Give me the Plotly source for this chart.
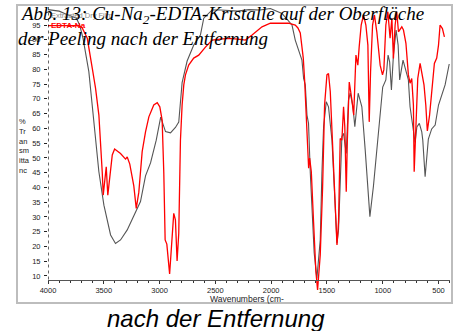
import plotly.graph_objects as go

# ---- data (wavenumber cm-1, % transmittance) ----
gray_wn = [4000, 3900, 3851, 3746, 3716, 3686, 3634, 3603, 3574, 3544, 3499, 3439, 3395, 3350,
           3290, 3216, 3200, 3171, 3126, 3081, 3030, 2990, 2947, 2902, 2858, 2828, 2798, 2753,
           2694, 2634, 2604, 2529, 2450, 2300, 2200, 2100, 2007, 1903, 1813, 1784, 1754, 1724,
           1709, 1694, 1679, 1665, 1649, 1634, 1614, 1590, 1560, 1545, 1530, 1506, 1486, 1455,
           1435, 1410, 1396, 1381, 1366, 1351, 1327, 1307, 1291, 1267, 1250, 1220, 1187, 1157,
           1128, 1115, 1083, 1053, 1030, 1000, 972, 952, 938, 922, 904, 880, 862, 848, 818, 795,
           770, 755, 725, 710, 694, 672, 650, 641, 620, 591, 561, 530, 500, 471, 441, 404]
gray_t = [100.2, 99.7, 98.9, 97.3, 95.0, 90.5, 79.2, 67.9, 56.6, 45.3, 34.0, 23.9, 21.0, 22.2,
          25.6, 31.8, 33.0, 35.2, 43.9, 48.3, 56.0, 63.8, 58.9, 58.5, 60.3, 62.1, 75.5, 82.8,
          88.2, 91.6, 97.3, 100.1, 100.1, 99.7, 100.2, 100.1, 100.6, 98.9, 95.0, 89.9, 86.5, 83.1,
          76.9, 74.7, 64.5, 61.7, 44.8, 31.2, 17.7, 9.2, 22.2, 44.8, 60.6, 69.0, 67.3, 56.0,
          39.1, 21.1, 25.6, 44.8, 57.2, 58.3, 51.5, 69.6, 71.9, 67.3, 60.6, 71.9, 67.3, 52.7,
          37.4, 30.1, 40.5, 52.7, 59.4, 74.0, 76.4, 84.8, 82.5, 73.0, 84.8, 93.3, 88.2, 76.4, 83.1, 79.8,
          76.4, 67.3, 59.4, 55.2, 60.5, 61.7, 58.8, 56.0, 43.6, 56.4, 59.8, 61.1, 67.9, 71.3, 74.7, 81.8]

red_wn = [4000, 3800, 3723, 3693, 3648, 3603, 3574, 3544, 3529, 3514, 3505, 3490, 3478, 3464,
          3449, 3424, 3403, 3350, 3305, 3290, 3267, 3231, 3209, 3186, 3156, 3126, 3096, 3052,
          3021, 2998, 2977, 2962, 2950, 2935, 2910, 2887, 2873, 2858, 2843, 2828, 2813, 2798,
          2783, 2768, 2739, 2694, 2649, 2589, 2529, 2455, 2381, 2300, 2231, 2171, 2120, 2082,
          2007, 1844, 1784, 1760, 1739, 1712, 1700, 1688, 1670, 1664, 1655, 1640, 1620, 1599,
          1584, 1560, 1539, 1521, 1500, 1486, 1470, 1450, 1426, 1410, 1396, 1381, 1366, 1351,
          1340, 1327, 1317, 1300, 1276, 1260, 1240, 1223, 1211, 1193, 1172, 1151, 1133, 1121,
          1109, 1091, 1074, 1053, 1023, 1002, 990, 972, 954, 934, 918, 904, 889, 874, 859, 829,
          814, 792, 770, 755, 740, 725, 718, 704, 686, 665, 644, 630, 614, 600, 580, 555, 537,
          516, 500, 486, 465, 447]
red_t = [94.8, 94.8, 94.8, 94.0, 90.5, 80.3, 73.6, 64.5, 56.6, 45.3, 37.4, 42.5, 47.0, 37.4,
         42.5, 51.0, 53.0, 51.5, 49.6, 50.3, 47.9, 40.5, 32.9, 38.4, 52.1, 58.8, 63.9, 67.9,
         68.7, 67.3, 62.8, 44.8, 22.2, 20.8, 10.7, 22.2, 31.2, 29.0, 15.1, 24.5, 56.0, 67.9,
         74.7, 78.1, 81.4, 83.8, 84.8, 87.5, 89.9, 90.2, 90.5, 90.2, 89.9, 91.6, 93.3, 94.4,
         95.6, 95.6, 95.0, 94.0, 92.3, 83.8, 76.4, 67.9, 53.2, 46.5, 49.9, 45.3, 28.4, 11.5,
         5.3, 17.1, 39.7, 67.9, 78.1, 78.6, 72.4, 54.4, 34.0, 20.5, 28.4, 56.6, 56.0, 67.3,
         60.6, 38.5, 56.0, 75.7, 69.6, 64.5, 84.8, 81.4, 87.6, 95.0, 98.4, 95.0, 88.2, 62.2,
         79.2, 95.0, 98.4, 92.7, 81.4, 78.1, 79.8, 95.0, 99.5, 90.5, 97.3, 83.7, 95.0, 99.5, 92.7, 94.4,
         93.3, 88.8, 78.1, 75.3, 76.9, 67.9, 45.3, 58.9, 76.9, 82.0, 77.5, 74.7, 67.9, 59.1, 64.5, 76.4, 82.0,
         83.8, 88.2, 95.0, 93.8, 91.0]

x_tick_vals = [4000, 3500, 3000, 2500, 2000, 1500, 1000, 500]
x_tick_text = ["4000", "3500", "3000", "2500", "2000", "1500", "1000", "500"]
y_tick_vals = [10, 15, 20, 25, 30, 35, 40, 45, 50, 55, 60, 65, 70, 75, 80, 85, 90, 95]
y_tick_text = [str(v) for v in y_tick_vals]

# ---- geometry ----
W, H = 458, 331
ML, MR, MT, MB = 48, 8, 7, 31
PW, PH = W - ML - MR, H - MT - MB
Y_LO, Y_HI = 1.87, 101.1
X_AXIS_Y = 8.8


def pxx(x):
    return (x - ML) / PW


def pyy(y):
    return (H - MB - y) / PH


SANS = "Liberation Sans, Arial, sans-serif"
SERIF = "Liberation Serif, Times New Roman, serif"

fig = go.Figure()
fig.add_trace(go.Scatter(x=gray_wn, y=gray_t, mode="lines",
                         line=dict(color="#555555", width=1.1), showlegend=False,
                         hoverinfo="skip"))
fig.add_trace(go.Scatter(x=red_wn, y=red_t, mode="lines",
                         line=dict(color="#ff0000", width=1.3), showlegend=False,
                         hoverinfo="skip"))

fig.update_layout(
    width=W, height=H,
    margin=dict(l=ML, r=MR, t=MT, b=MB, pad=0),
    paper_bgcolor="white", plot_bgcolor="white",
    showlegend=False,
    xaxis=dict(range=[4000, 397], autorange=False, anchor="free",
               position=(X_AXIS_Y - Y_LO) / (Y_HI - Y_LO),
               showline=True, linecolor="#555555", linewidth=1,
               ticks="outside", ticklen=3, tickcolor="#333333", tickwidth=1,
               tickmode="array", tickvals=x_tick_vals, ticktext=x_tick_text,
               tickfont=dict(family=SANS, size=7.5, color="#222222"),
               minor=dict(tickmode="linear", tick0=0, dtick=100, ticks="outside",
                          ticklen=2, tickcolor="#333333", tickwidth=1, showgrid=False),
               showgrid=False, zeroline=False, automargin=False),
    yaxis=dict(range=[Y_LO, Y_HI], autorange=False,
               showline=False, ticks="outside", ticklen=3, tickcolor="#222222",
               tickmode="array", tickvals=y_tick_vals, ticktext=y_tick_text,
               tickfont=dict(family=SANS, size=7.5, color="#222222"),
               ticklabelstandoff=2,
               showgrid=False, zeroline=False, automargin=False),
)

# dotted y axis line
fig.add_shape(type="line", xref="x", yref="y", x0=4000, x1=4000, y0=X_AXIS_Y, y1=Y_HI,
              line=dict(color="black", width=1.2, dash="dot"))
# outer gray frame
fig.add_shape(type="rect", xref="paper", yref="paper",
              x0=pxx(17), x1=pxx(452), y0=pyy(303), y1=pyy(5),
              line=dict(color="#bdbdbd", width=2))

ann = []
ann.append(dict(text="Extracted Dry Film", x=pxx(49), y=pyy(15.5), xanchor="left", yanchor="middle",
                font=dict(family=SANS, size=7.5, color="#8a8a8a")))
ann.append(dict(text="<b>EDTA-Na</b>", x=pxx(49), y=pyy(25.5), xanchor="left", yanchor="middle",
                font=dict(family=SANS, size=8, color="#ff0000")))
ann.append(dict(text="Abb. 13: Cu-Na<sub>2</sub>-EDTA-Kristalle auf der Oberfläche",
                x=pxx(17.5), y=pyy(15.5), xanchor="left", yanchor="middle",
                font=dict(family=SERIF, size=19, color="black", style="italic")))
ann.append(dict(text="der Peeling nach der Entfernung",
                x=pxx(15.5), y=pyy(38), xanchor="left", yanchor="middle",
                font=dict(family=SERIF, size=19, color="black", style="italic")))
ann.append(dict(text="%<br>Tr<br>an<br>sm<br>itta<br>nc", x=pxx(17), y=pyy(115),
                xanchor="left", yanchor="top", align="left",
                font=dict(family=SANS, size=7.5, color="#222222")))
ann.append(dict(text="Wavenumbers (cm-", x=pxx(247), y=pyy(299), xanchor="center", yanchor="middle",
                font=dict(family=SANS, size=8.5, color="#222222")))
ann.append(dict(text="nach der Entfernung", x=pxx(216), y=pyy(318.5), xanchor="center", yanchor="middle",
                font=dict(family=SANS, size=24, color="black", style="italic")))
for a in ann:
    a.update(xref="paper", yref="paper", showarrow=False)
fig.update_layout(annotations=ann)

fig.write_html("out.html", config={"displayModeBar": False},
               post_script="document.body.style.margin='0';document.body.style.overflow='hidden';")
